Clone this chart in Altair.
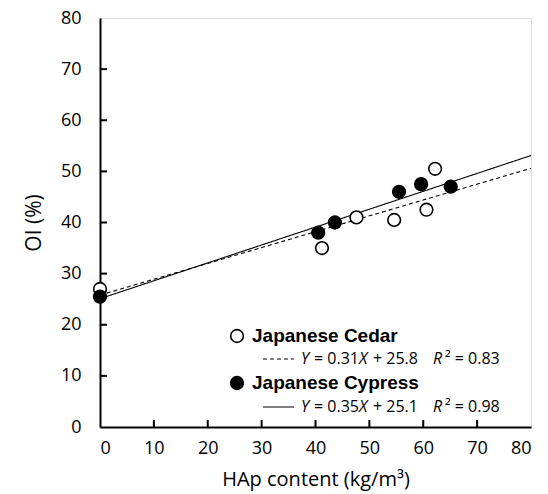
import altair as alt
import pandas as pd

# Data
cedar_x = [0, 41.2, 47.6, 54.6, 60.6, 62.2]
cedar_y = [27.0, 35.0, 41.0, 40.5, 42.5, 50.5]
cypress_x = [0, 40.5, 43.6, 55.5, 59.6, 65.1]
cypress_y = [25.5, 38.0, 40.0, 46.0, 47.5, 47.0]

species = ["Japanese Cedar", "Japanese Cypress"]
slopes = [0.31, 0.35]
intercepts = [25.8, 25.1]
x_range = [0, 80]

x_ticks = [10, 20, 30, 40, 50, 60, 70]
y_ticks = [10, 20, 30, 40, 50, 60, 70]

W, H = 431, 409
FONT = "Open Sans"

pts = pd.DataFrame(
    {"x": cedar_x + cypress_x,
     "y": cedar_y + cypress_y,
     "s": [species[0]] * len(cedar_x) + [species[1]] * len(cypress_x)}
)
lines = pd.DataFrame(
    [{"s": s, "x": xv, "y": b + m * xv} for s, m, b in zip(species, slopes, intercepts) for xv in x_range]
)

xs = alt.Scale(domain=[0, 80], nice=False)
ys = alt.Scale(domain=[0, 80], nice=False)

base_axis_x = alt.Axis(values=list(range(0, 81, 10)), tickSize=0, labelPadding=12,
                       labelFontSize=18, labelFont=FONT, labelColor="black",
                       title="HAp content (kg/m³)", titleFont=FONT, titleFontSize=20,
                       titleFontWeight="normal", titleColor="black", titlePadding=12,
                       domainColor="black", domainWidth=2, grid=False)
base_axis_y = alt.Axis(values=list(range(0, 81, 10)), tickSize=0, labelPadding=19,
                       labelFontSize=18, labelFont=FONT, labelColor="black",
                       title="OI (%)", titleFont=FONT, titleFontSize=21,
                       titleFontWeight="normal", titleColor="black", titlePadding=16,
                       domainColor="black", domainWidth=2, grid=False)

reg = alt.Chart(lines).mark_line(color="black", strokeWidth=1.1).encode(
    x=alt.X("x:Q", scale=xs, axis=base_axis_x),
    y=alt.Y("y:Q", scale=ys, axis=base_axis_y),
    detail="s:N",
    strokeDash=alt.StrokeDash("s:N", scale=alt.Scale(domain=species, range=[[4, 3], [1, 0]]), legend=None),
)

points = alt.Chart(pts).mark_point(shape="circle", size=160, strokeWidth=1.6, opacity=1).encode(
    x=alt.X("x:Q", scale=xs),
    y=alt.Y("y:Q", scale=ys),
    fill=alt.Fill("s:N", scale=alt.Scale(domain=species, range=["white", "black"]), legend=None),
    stroke=alt.value("black"),
)

xt = alt.Chart(pd.DataFrame({"v": x_ticks})).mark_rule(color="black", strokeWidth=2).encode(
    x=alt.X("v:Q", scale=xs), y=alt.value(H), y2=alt.value(H - 7))
yt = alt.Chart(pd.DataFrame({"v": y_ticks})).mark_rule(color="black", strokeWidth=2).encode(
    y=alt.Y("v:Q", scale=ys), x=alt.value(0), x2=alt.value(7))

one = pd.DataFrame({"a": [0]})

def txt(t, x, y, size=16, weight="normal", style="normal", font=FONT):
    return alt.Chart(one).mark_text(text=t, align="left", baseline="middle", fontSize=size,
                                    fontWeight=weight, fontStyle=style, font=font, color="black").encode(
        x=alt.value(x), y=alt.value(y))

def dot(x, y, fill):
    return alt.Chart(one).mark_point(shape="circle", size=160, strokeWidth=1.6, opacity=1,
                                     fill=fill, stroke="black").encode(x=alt.value(x), y=alt.value(y))

def seg(x1, x2, y, dash):
    return alt.Chart(one).mark_rule(color="black", strokeWidth=1.1, strokeDash=dash).encode(
        x=alt.value(x1), x2=alt.value(x2), y=alt.value(y))

LFONT = "Liberation Sans"

def eq(y, m, b, r2, dash):
    return [
        seg(163, 194, y, dash),
        txt("Y", 201, y, style="italic"), txt("= " + m, 214, y), txt("X", 259, y, style="italic"),
        txt("+ " + b, 273, y), txt("R", 333, y, style="italic"), txt("² = " + r2, 345, y),
    ]

legend = (
    [dot(137, 318, "white"),
     txt("Japanese Cedar", 152, 318, size=19, weight="bold", font=LFONT)]
    + eq(341, "0.31", "25.8", "0.83", [4, 3])
    + [dot(137, 365, "black"),
       txt("Japanese Cypress", 152, 365, size=19, weight="bold", font=LFONT)]
    + eq(389, "0.35", "25.1", "0.98", [1, 0])
)

chart = alt.layer(reg, xt, yt, points, *legend).properties(
    width=W, height=H,
    autosize=alt.AutoSizeParams(type="none"),
    padding={"left": 100, "top": 18, "right": 17, "bottom": 67},
).configure_view(stroke="black", strokeWidth=2).configure(background="white")

chart.save("out.html", embed_options={"renderer": "svg", "actions": False})
